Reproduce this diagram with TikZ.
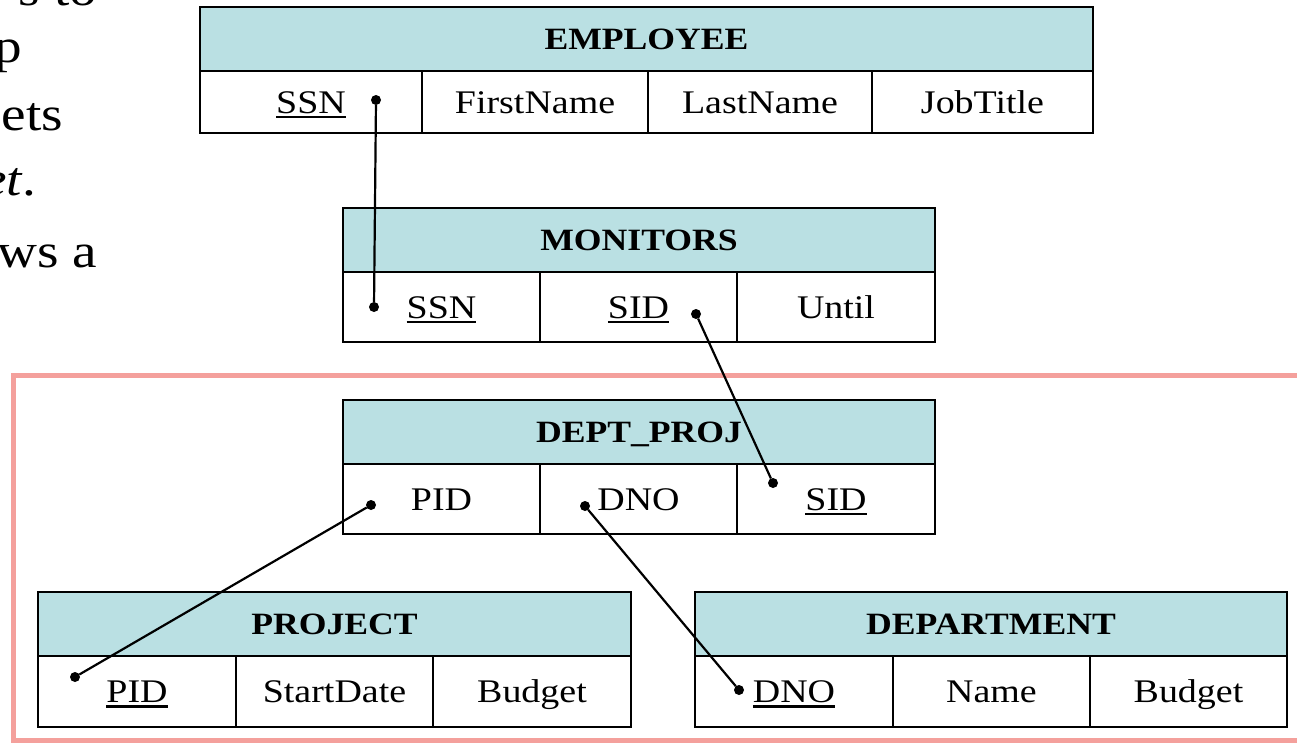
\documentclass[tikz,border=0pt]{standalone}
\usepackage{fontspec}
\setmainfont{Liberation Serif}[FakeStretch=1.15]
\usetikzlibrary{positioning}

\definecolor{headfill}{RGB}{186,224,227}
\definecolor{framepink}{RGB}{244,160,156}
\newcommand{\keyattr}[1]{\sbox0{#1}\rlap{\rule[-5pt]{\wd0}{2.5pt}}\usebox0}

\begin{document}
\begin{tikzpicture}[
    x=1pt, y=-1pt,
    every node/.style={inner sep=0pt, outer sep=0pt},
    head/.style={draw, line width=2.7pt, fill=headfill, anchor=north west,
        minimum height=64pt, font=\fontsize{31}{34}\selectfont\bfseries,
        text height=20pt, text depth=0pt},
    cell/.style={draw, line width=2.7pt, fill=white, minimum height=70pt,
        font=\fontsize{33}{36}\selectfont, text height=22pt, text depth=0pt},
    dot/.style={circle, fill, minimum size=10pt},
    link/.style={line width=2.2pt},
    aside/.style={anchor=base east, font=\fontsize{48}{52}\selectfont}
]
\useasboundingbox (0,0) rectangle (1297,742);

% slide text cut off at the left
\node[aside] (frag1) at (97,5) {s to};
\node[aside] (frag2) at (22,62) {p};
\node[aside] (frag3) at (63,130) {ets};
\node[aside] (frag4) at (36,195) {\textit{et}.};
\node[aside] (frag5) at (97,267) {ws a};

% frame round the lower tables
\draw[framepink, line width=5pt] (13,375) rectangle (1330,740);

% EMPLOYEE
\node[head, minimum width=893pt] (emp) at (200,7) {EMPLOYEE};
\node[cell, minimum width=222pt, minimum height=62pt, anchor=north west] (empssn) at (emp.south west) {\keyattr{SSN}};
\node[cell, minimum width=226pt, minimum height=62pt, right=0pt of empssn] (empfirst) {FirstName};
\node[cell, minimum width=224pt, minimum height=62pt, right=0pt of empfirst] (emplast) {LastName};
\node[cell, minimum width=221pt, minimum height=62pt, right=0pt of emplast] (empjob) {JobTitle};

% MONITORS
\node[head, minimum width=592pt] (mon) at (343,208) {MONITORS};
\node[cell, minimum width=197pt, anchor=north west] (monssn) at (mon.south west) {\keyattr{SSN}};
\node[cell, minimum width=197pt, right=0pt of monssn] (monsid) {\keyattr{SID}};
\node[cell, minimum width=198pt, right=0pt of monsid] (monuntil) {Until};

% DEPT_PROJ
\node[head, minimum width=592pt] (dp) at (343,400) {DEPT\_PROJ};
\node[cell, minimum width=197pt, anchor=north west] (dppid) at (dp.south west) {PID};
\node[cell, minimum width=197pt, right=0pt of dppid] (dpdno) {DNO};
\node[cell, minimum width=198pt, right=0pt of dpdno] (dpsid) {\keyattr{SID}};

% PROJECT
\node[head, minimum width=593pt] (proj) at (38,592) {PROJECT};
\node[cell, minimum width=198pt, minimum height=71pt, anchor=north west] (projpid) at (proj.south west) {\keyattr{PID}};
\node[cell, minimum width=197pt, minimum height=71pt, right=0pt of projpid] (projstart) {StartDate};
\node[cell, minimum width=198pt, minimum height=71pt, right=0pt of projstart] (projbudget) {Budget};

% DEPARTMENT
\node[head, minimum width=592pt] (dept) at (695,592) {DEPARTMENT};
\node[cell, minimum width=198pt, minimum height=71pt, anchor=north west] (deptdno) at (dept.south west) {\keyattr{DNO}};
\node[cell, minimum width=197pt, minimum height=71pt, right=0pt of deptdno] (deptname) {Name};
\node[cell, minimum width=197pt, minimum height=71pt, right=0pt of deptname] (deptbudget) {Budget};

% link ends
\node[dot] (essn) at (376,100) {};
\node[dot] (mssn) at (374,307) {};
\node[dot] (msid) at (696,314) {};
\node[dot] (dsid) at (773,483) {};
\node[dot] (dpid) at (371,505) {};
\node[dot] (ddno) at (585,506) {};
\node[dot] (ppid) at (75,677) {};
\node[dot] (tdno) at (739,690) {};

% foreign keys
\draw[link] (essn) -- (mssn);
\draw[link] (msid) -- (dsid);
\draw[link] (dpid) -- (ppid);
\draw[link] (ddno) -- (tdno);

\end{tikzpicture}
\end{document}
